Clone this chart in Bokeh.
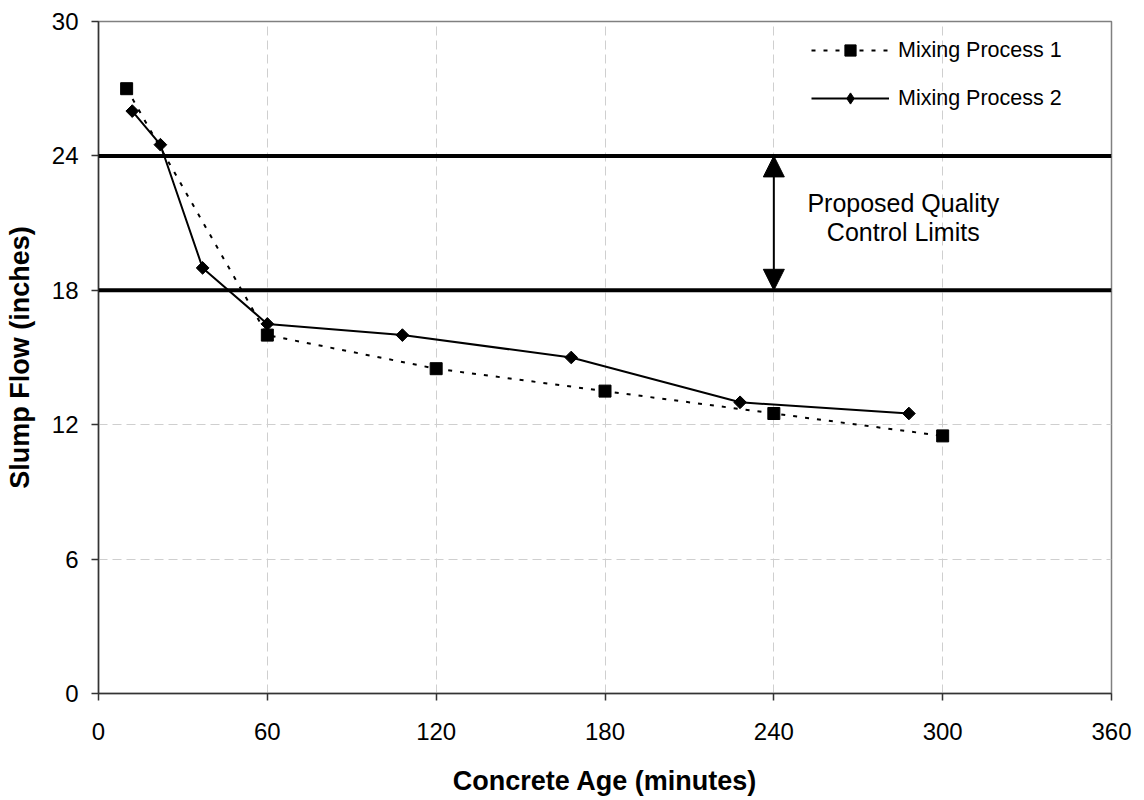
import math
from bokeh.plotting import figure
from bokeh.models import (Range1d, FixedTicker, Span, Arrow, NormalHead, Label, Legend)
from bokeh.embed import file_html
from bokeh.resources import INLINE

# ---- data ----
age_process1 = [10, 60, 120, 180, 240, 300]
slump_process1 = [27, 16, 14.5, 13.5, 12.5, 11.5]
age_process2 = [12, 22, 37, 60, 108, 168, 228, 288]
slump_process2 = [26, 24.5, 19, 16.5, 16, 15, 13, 12.5]
lower_limit = 18
upper_limit = 24
arrow_age = 240
x_ticks = [0, 60, 120, 180, 240, 300, 360]
y_ticks = [0, 6, 12, 18, 24, 30]
series_names = ["Mixing Process 1", "Mixing Process 2"]
note_text = "Proposed Quality\nControl Limits"
note_pos = (286, 21.25)

FONT = "Liberation Sans"

p = figure(width=1144, height=800, output_backend="svg", toolbar_location=None,
           x_range=Range1d(0, 360), y_range=Range1d(0, 30),
           min_border_left=98, min_border_right=33, min_border_top=21, min_border_bottom=107,
           background_fill_color="white", border_fill_color="white")

p.outline_line_color = "#808080"
p.outline_line_width = 1.5

for ax, ticks in ((p.xaxis[0], x_ticks), (p.yaxis[0], y_ticks)):
    ax.ticker = FixedTicker(ticks=ticks)
    ax.minor_tick_line_color = None
    ax.major_tick_in = 0
    ax.major_tick_out = 7
    ax.axis_line_color = "#333333"
    ax.axis_line_width = 1.5
    ax.major_tick_line_color = "#333333"
    ax.major_tick_line_width = 1.5
    ax.major_label_text_font = FONT
    ax.major_label_text_font_size = "24px"
    ax.major_label_text_color = "black"
    ax.axis_label_text_font = FONT
    ax.axis_label_text_font_size = "27px"
    ax.axis_label_text_font_style = "bold"
    ax.axis_label_text_color = "black"

p.xaxis.axis_label = "Concrete Age (minutes)"
p.yaxis.axis_label = "Slump Flow (inches)"
p.xaxis.major_label_standoff = 22
p.yaxis.major_label_standoff = 13
p.xaxis.axis_label_standoff = 23
p.yaxis.axis_label_standoff = 14

p.xgrid[0].ticker = p.xaxis[0].ticker
p.ygrid[0].ticker = p.yaxis[0].ticker
for g in (p.xgrid[0], p.ygrid[0]):
    g.grid_line_color = "#cfcfcf"
    g.grid_line_dash = "9 5"
    g.grid_line_width = 1

# control limit lines
for lim in (lower_limit, upper_limit):
    p.add_layout(Span(location=lim, dimension="width", line_color="black", line_width=4))

# double arrow
p.add_layout(Arrow(x_start=arrow_age, y_start=lower_limit, x_end=arrow_age, y_end=upper_limit,
                   line_width=2, line_color="black",
                   start=NormalHead(size=21, fill_color="black", line_color="black"),
                   end=NormalHead(size=21, fill_color="black", line_color="black")))

p.add_layout(Label(x=note_pos[0], y=note_pos[1], text=note_text, text_align="center",
                   text_baseline="middle", text_font=FONT, text_font_size="25px",
                   text_line_height=1.04, text_color="black"))

# series
l1 = p.line(age_process1, slump_process1, line_color="black", line_width=2, line_dash="4 8")
s1 = p.scatter(age_process1, slump_process1, marker="square", size=12,
               fill_color="black", line_color="black")
l2 = p.line(age_process2, slump_process2, line_color="black", line_width=2)
s2 = p.scatter(age_process2, slump_process2, marker="square", angle=math.pi / 4, size=9,
               fill_color="black", line_color="black")
# legend-only diamond sample (draws nothing in the plot area)
s2_key = p.scatter([float("nan")], [float("nan")], marker="diamond", size=13,
                   fill_color="black", line_color="black")

legend = Legend(items=[(series_names[0], [l1, s1]), (series_names[1], [l2, s2_key])],
                location=(713, 581), orientation="vertical",
                glyph_width=78, glyph_height=28, label_height=28, spacing=20,
                label_standoff=9, padding=0, margin=0,
                border_line_alpha=0, background_fill_alpha=0,
                label_text_font=FONT, label_text_font_size="21.5px", label_text_color="black")
p.add_layout(legend)

open("out.html", "w").write(file_html(p, INLINE))
